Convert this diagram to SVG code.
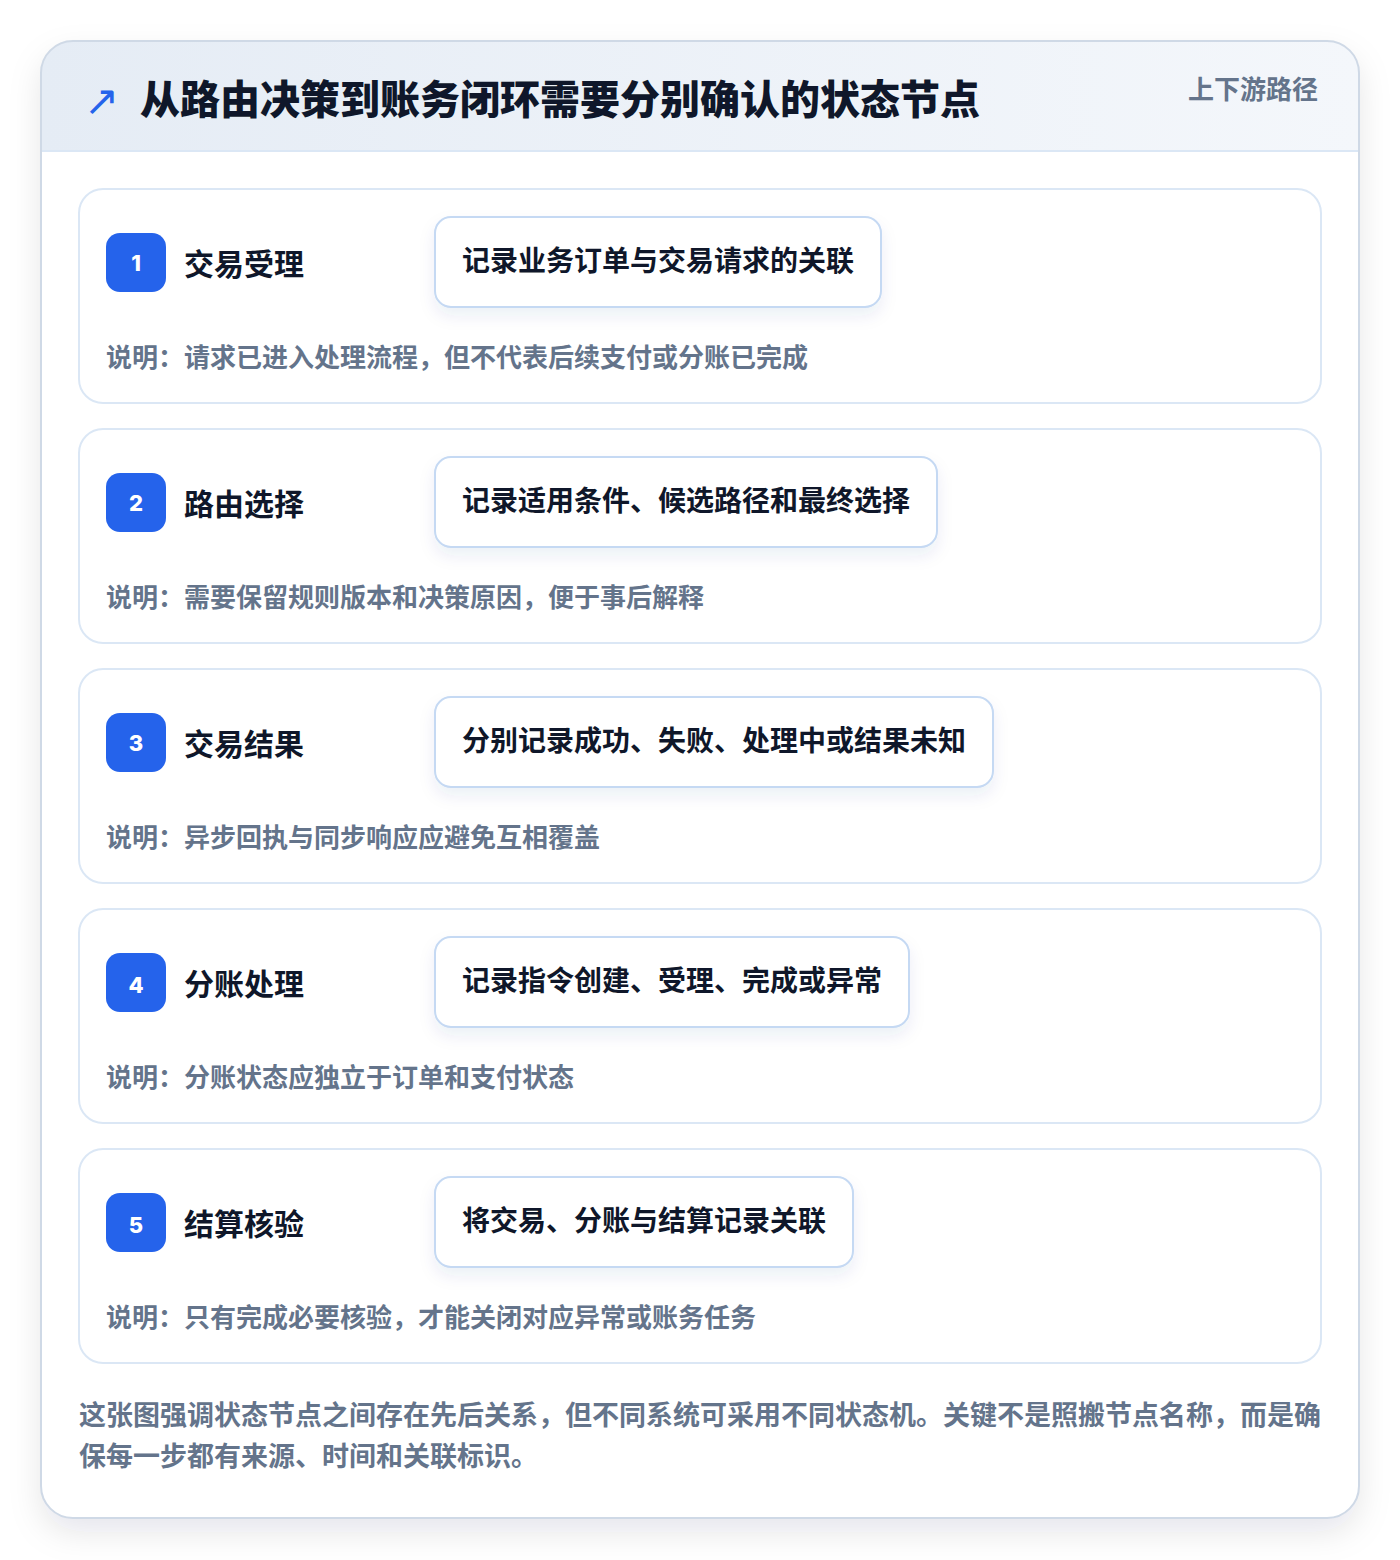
<svg xmlns="http://www.w3.org/2000/svg" width="1400" height="1560" viewBox="0 0 1400 1560">
<defs>
<linearGradient id="hdr" x1="0" y1="0" x2="1" y2="0">
<stop offset="0" stop-color="#e5ecf5"/>
<stop offset="1" stop-color="#f4f7fb"/>
</linearGradient>
<filter id="outerShadow" x="-10%" y="-10%" width="120%" height="120%">
<feDropShadow dx="0" dy="14" stdDeviation="16" flood-color="#0f172a" flood-opacity="0.10"/>
</filter>
<filter id="pillShadow" x="-10%" y="-30%" width="120%" height="170%">
<feDropShadow dx="0" dy="8" stdDeviation="8" flood-color="#1e3a8a" flood-opacity="0.08"/>
</filter>
<clipPath id="outerClip"><rect x="41" y="41" width="1318" height="1477" rx="32"/></clipPath>
</defs>
<style>
text{font-family:"Noto Sans CJK SC","Noto Sans",sans-serif;font-weight:700}
.card{fill:#ffffff;stroke:#dbe7f5;stroke-width:2}
.badge{fill:#2563eb}
.num{fill:#ffffff;font-size:22px;text-anchor:middle;font-family:"Inter","Noto Sans",sans-serif;font-weight:800}
.label{fill:#0f172a;font-size:30px}
.pill{fill:#ffffff;stroke:#c5d9f3;stroke-width:2}
.pilltext{fill:#0f172a;font-size:28px}
.desc{fill:#64748b;font-size:26px}
</style>
<rect x="0" y="0" width="1400" height="1560" fill="#ffffff"/>
<g id="outer">
<rect x="41" y="41" width="1318" height="1477" rx="32" fill="#ffffff" filter="url(#outerShadow)"/>
<g clip-path="url(#outerClip)">
<rect x="41" y="41" width="1318" height="110" fill="url(#hdr)"/>
</g>
<line x1="41" y1="151" x2="1359" y2="151" stroke="#dbe7f5" stroke-width="2"/>
<rect x="41" y="41" width="1318" height="1477" rx="32" fill="none" stroke="#cfd9e6" stroke-width="2"/>
</g>
<g id="header">
<text x="84" y="115" font-size="42" fill="#2563eb" style="font-family:'DejaVu Sans',sans-serif;font-weight:400">↗</text>
<text x="140" y="114" font-size="40" fill="#0f172a" style="font-weight:900">从路由决策到账务闭环需要分别确认的状态节点</text>
<text x="1318" y="99" font-size="26" fill="#64748b" text-anchor="end">上下游路径</text>
</g>
<g id="connectors"></g>
<g id="node1">
<rect class="card" x="79" y="189" width="1242" height="214" rx="24"/>
<rect class="badge" x="106" y="233" width="60" height="59" rx="14"/>
<text class="num" x="136" y="271">1</text>
<text class="label" x="184" y="275">交易受理</text>
<rect class="pill" x="435" y="217" width="446" height="90" rx="16" filter="url(#pillShadow)"/>
<text class="pilltext" x="462" y="271">记录业务订单与交易请求的关联</text>
<text class="desc" x="106" y="367">说明：请求已进入处理流程，但不代表后续支付或分账已完成</text>
</g>
<g id="node2">
<rect class="card" x="79" y="429" width="1242" height="214" rx="24"/>
<rect class="badge" x="106" y="473" width="60" height="59" rx="14"/>
<text class="num" x="136" y="511">2</text>
<text class="label" x="184" y="515">路由选择</text>
<rect class="pill" x="435" y="457" width="502" height="90" rx="16" filter="url(#pillShadow)"/>
<text class="pilltext" x="462" y="511">记录适用条件、候选路径和最终选择</text>
<text class="desc" x="106" y="607">说明：需要保留规则版本和决策原因，便于事后解释</text>
</g>
<g id="node3">
<rect class="card" x="79" y="669" width="1242" height="214" rx="24"/>
<rect class="badge" x="106" y="713" width="60" height="59" rx="14"/>
<text class="num" x="136" y="751">3</text>
<text class="label" x="184" y="755">交易结果</text>
<rect class="pill" x="435" y="697" width="558" height="90" rx="16" filter="url(#pillShadow)"/>
<text class="pilltext" x="462" y="751">分别记录成功、失败、处理中或结果未知</text>
<text class="desc" x="106" y="847">说明：异步回执与同步响应应避免互相覆盖</text>
</g>
<g id="node4">
<rect class="card" x="79" y="909" width="1242" height="214" rx="24"/>
<rect class="badge" x="106" y="953" width="60" height="59" rx="14"/>
<text class="num" x="136" y="993">4</text>
<text class="label" x="184" y="995">分账处理</text>
<rect class="pill" x="435" y="937" width="474" height="90" rx="16" filter="url(#pillShadow)"/>
<text class="pilltext" x="462" y="991">记录指令创建、受理、完成或异常</text>
<text class="desc" x="106" y="1087">说明：分账状态应独立于订单和支付状态</text>
</g>
<g id="node5">
<rect class="card" x="79" y="1149" width="1242" height="214" rx="24"/>
<rect class="badge" x="106" y="1193" width="60" height="59" rx="14"/>
<text class="num" x="136" y="1233">5</text>
<text class="label" x="184" y="1235">结算核验</text>
<rect class="pill" x="435" y="1177" width="418" height="90" rx="16" filter="url(#pillShadow)"/>
<text class="pilltext" x="462" y="1231">将交易、分账与结算记录关联</text>
<text class="desc" x="106" y="1327">说明：只有完成必要核验，才能关闭对应异常或账务任务</text>
</g>
<g id="footer">
<text x="79" y="1425" font-size="27" fill="#64748b">这张图强调状态节点之间存在先后关系，但不同系统可采用不同状态机。关键不是照搬节点名称，而是确</text>
<text x="79" y="1466" font-size="27" fill="#64748b">保每一步都有来源、时间和关联标识。</text>
</g>
</svg>
